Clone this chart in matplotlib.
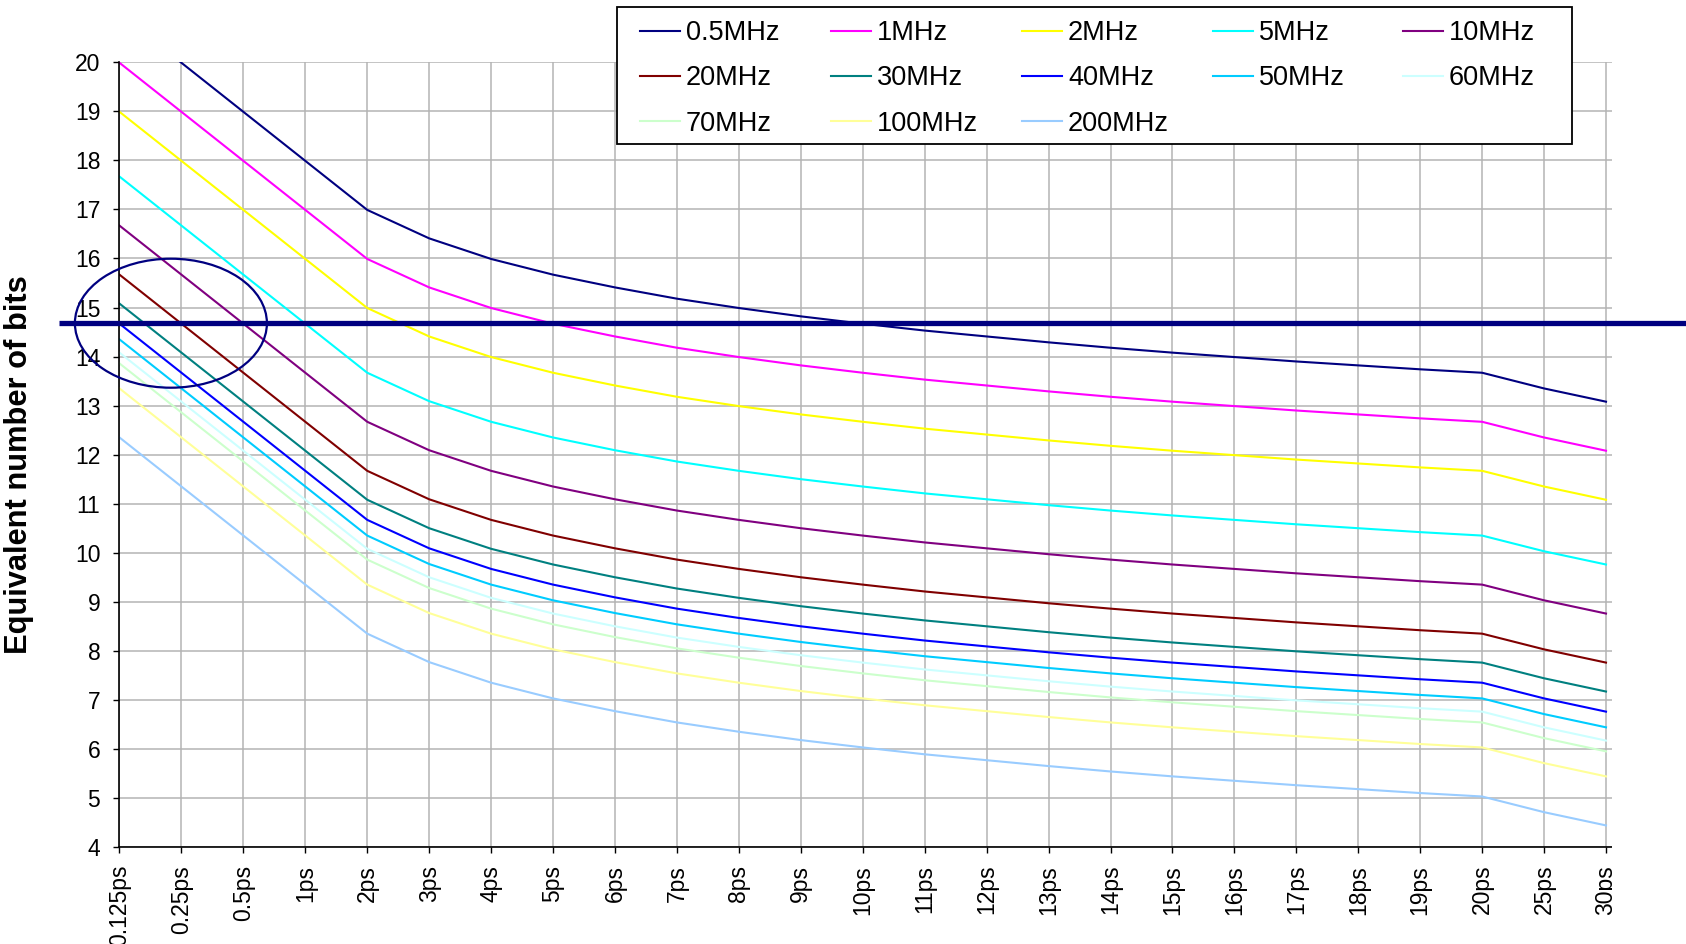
import matplotlib
matplotlib.use('Agg')
import matplotlib.pyplot as plt
from matplotlib.lines import Line2D
from matplotlib.patches import Ellipse, Rectangle
import matplotlib.transforms as mtransforms

plt.rcParams['font.family'] = ['Liberation Sans', 'DejaVu Sans']

# ---------------- data ----------------
jitter_labels = ['0.125ps', '0.25ps', '0.5ps', '1ps', '2ps', '3ps', '4ps', '5ps', '6ps', '7ps',
                 '8ps', '9ps', '10ps', '11ps', '12ps', '13ps', '14ps', '15ps', '16ps', '17ps',
                 '18ps', '19ps', '20ps', '25ps', '30ps']

series_names = ['0.5MHz', '1MHz', '2MHz', '5MHz', '10MHz', '20MHz', '30MHz',
                '40MHz', '50MHz', '60MHz', '70MHz', '100MHz', '200MHz']

enob_0p5MHz = [20.99, 19.99, 18.99, 17.99, 16.99, 16.41, 15.99, 15.67, 15.41, 15.18, 14.99, 14.82, 14.67,
               14.53, 14.41, 14.29, 14.18, 14.08, 13.99, 13.90, 13.82, 13.74, 13.67, 13.35, 13.08]
enob_1MHz = [19.99, 18.99, 17.99, 16.99, 15.99, 15.41, 14.99, 14.67, 14.41, 14.18, 13.99, 13.82, 13.67,
             13.53, 13.41, 13.29, 13.18, 13.08, 12.99, 12.90, 12.82, 12.74, 12.67, 12.35, 12.08]
enob_2MHz = [18.99, 17.99, 16.99, 15.99, 14.99, 14.41, 13.99, 13.67, 13.41, 13.18, 12.99, 12.82, 12.67,
             12.53, 12.41, 12.29, 12.18, 12.08, 11.99, 11.90, 11.82, 11.74, 11.67, 11.35, 11.08]
enob_5MHz = [17.67, 16.67, 15.67, 14.67, 13.67, 13.09, 12.67, 12.35, 12.09, 11.86, 11.67, 11.50, 11.35,
             11.21, 11.09, 10.97, 10.86, 10.76, 10.67, 10.58, 10.50, 10.42, 10.35, 10.03, 9.76]
enob_10MHz = [16.67, 15.67, 14.67, 13.67, 12.67, 12.09, 11.67, 11.35, 11.09, 10.86, 10.67, 10.50, 10.35,
              10.21, 10.09, 9.97, 9.86, 9.76, 9.67, 9.58, 9.50, 9.42, 9.35, 9.03, 8.76]
enob_20MHz = [15.67, 14.67, 13.67, 12.67, 11.67, 11.09, 10.67, 10.35, 10.09, 9.86, 9.67, 9.50, 9.35,
              9.21, 9.09, 8.97, 8.86, 8.76, 8.67, 8.58, 8.50, 8.42, 8.35, 8.03, 7.76]
enob_30MHz = [15.08, 14.08, 13.08, 12.08, 11.08, 10.50, 10.08, 9.76, 9.50, 9.27, 9.08, 8.91, 8.76,
              8.62, 8.50, 8.38, 8.27, 8.17, 8.08, 7.99, 7.91, 7.83, 7.76, 7.44, 7.17]
enob_40MHz = [14.67, 13.67, 12.67, 11.67, 10.67, 10.09, 9.67, 9.35, 9.09, 8.86, 8.67, 8.50, 8.35,
              8.21, 8.09, 7.97, 7.86, 7.76, 7.67, 7.58, 7.50, 7.42, 7.35, 7.03, 6.76]
enob_50MHz = [14.35, 13.35, 12.35, 11.35, 10.35, 9.77, 9.35, 9.03, 8.77, 8.54, 8.35, 8.18, 8.03,
              7.89, 7.77, 7.65, 7.54, 7.44, 7.35, 7.26, 7.18, 7.10, 7.03, 6.71, 6.44]
enob_60MHz = [14.08, 13.08, 12.08, 11.08, 10.08, 9.50, 9.08, 8.76, 8.50, 8.27, 8.08, 7.91, 7.76,
              7.62, 7.50, 7.38, 7.27, 7.17, 7.08, 6.99, 6.91, 6.83, 6.76, 6.44, 6.17]
enob_70MHz = [13.86, 12.86, 11.86, 10.86, 9.86, 9.28, 8.86, 8.54, 8.28, 8.05, 7.86, 7.69, 7.54,
              7.40, 7.28, 7.16, 7.05, 6.95, 6.86, 6.77, 6.69, 6.61, 6.54, 6.22, 5.95]
enob_100MHz = [13.35, 12.35, 11.35, 10.35, 9.35, 8.77, 8.35, 8.03, 7.77, 7.54, 7.35, 7.18, 7.03,
               6.89, 6.77, 6.65, 6.54, 6.44, 6.35, 6.26, 6.18, 6.10, 6.03, 5.71, 5.44]
enob_200MHz = [12.35, 11.35, 10.35, 9.35, 8.35, 7.77, 7.35, 7.03, 6.77, 6.54, 6.35, 6.18, 6.03,
               5.89, 5.77, 5.65, 5.54, 5.44, 5.35, 5.26, 5.18, 5.10, 5.03, 4.71, 4.44]

series_values = [enob_0p5MHz, enob_1MHz, enob_2MHz, enob_5MHz, enob_10MHz, enob_20MHz, enob_30MHz,
                 enob_40MHz, enob_50MHz, enob_60MHz, enob_70MHz, enob_100MHz, enob_200MHz]

series_colors = ['#000080', '#FF00FF', '#FFFF00', '#00FFFF', '#800080', '#800000', '#008080',
                 '#0000FF', '#00CCFF', '#CCFFFF', '#CCFFCC', '#FFFF99', '#99CCFF']

target_enob = 14.68
y_label = 'Equivalent number of bits'

# ---------------- figure ----------------
W, H = 1686, 944
fig = plt.figure(figsize=(W / 100, H / 100), dpi=100)

x_left, x_right = 119.5, 1612.0
y_top, y_bottom = 62.3, 847.0
ax = fig.add_axes([x_left / W, 1 - y_bottom / H, (x_right - x_left) / W, (y_bottom - y_top) / H])

xs = list(range(len(jitter_labels)))
handles = []
for name, vals, col in zip(series_names, series_values, series_colors):
    h, = ax.plot(xs, vals, color=col, lw=1.5, label=name)
    handles.append(h)

step_px = (1606.0 - x_left) / (len(xs) - 1)
ax.set_xlim(0, (len(xs) - 1) + (x_right - 1606.0) / step_px)
ax.set_ylim(4, 20)
ax.set_yticks(range(4, 21))
ax.set_xticks(xs)
ax.set_xticklabels(jitter_labels, rotation=90, fontsize=16.5)
ax.tick_params(axis='y', labelsize=16.5, length=4.3, width=1, pad=9.5, direction='out', colors='black')
ax.tick_params(axis='x', length=4.3, width=1, pad=8.5, direction='out', colors='black')
ax.grid(True, color='#b4b4b4', lw=1.1)
ax.set_axisbelow(True)
for s in ['top', 'right']:
    ax.spines[s].set_visible(False)
for s in ['left', 'bottom']:
    ax.spines[s].set_color('black')
    ax.spines[s].set_linewidth(1.2)

# ellipse highlighting region
ell = Ellipse((0.83, target_enob), width=3.1, height=2.63, fill=False,
              edgecolor='#000080', lw=1.6, clip_on=False, zorder=5)
ax.add_patch(ell)

# y label
fig.text(19 / W, 1 - 465 / H, y_label, rotation=90, ha='center', va='center',
         fontsize=22.2, fontweight='bold')

# crop cover on the right side
cover = Rectangle((x_right / W, 0), 1 - x_right / W, 1, transform=fig.transFigure,
                  facecolor='white', edgecolor='none', zorder=3)
fig.patches.append(cover)

# legend frame
lf_l, lf_r, lf_t, lf_b = 616.6, 1571.6, 6.7, 143.7
frame = Rectangle((lf_l / W, 1 - lf_b / H), (lf_r - lf_l) / W, (lf_b - lf_t) / H,
                  transform=fig.transFigure, facecolor='white', edgecolor='black', lw=1.3, zorder=4)
fig.patches.append(frame)

# legend: 5 columns at fixed (equal) pitch, filled row by row
leg_fs = 19.5
em = leg_fs * 100 / 72
col_x = [640, 831, 1022, 1213, 1403]
ncols = 5
for c in range(ncols):
    idx = list(range(c, len(series_names), ncols))
    leg = fig.legend([handles[i] for i in idx], [series_names[i] for i in idx],
                     ncol=1, loc='upper left', bbox_to_anchor=(col_x[c] / W, 1 - 20.4 / H),
                     bbox_transform=fig.transFigure, frameon=False, borderpad=0,
                     fontsize=leg_fs, handlelength=40 / em, handletextpad=6 / em,
                     labelspacing=0.705, borderaxespad=0)
    leg.set_zorder(6)

# thick target line
trans = mtransforms.blended_transform_factory(fig.transFigure, ax.transData)
thick = Line2D([59 / W, 1.0], [target_enob, target_enob], transform=trans,
               color='#000080', lw=3.8, zorder=10, solid_capstyle='butt')
fig.lines.append(thick)

fig.savefig('out.png', dpi=100)
